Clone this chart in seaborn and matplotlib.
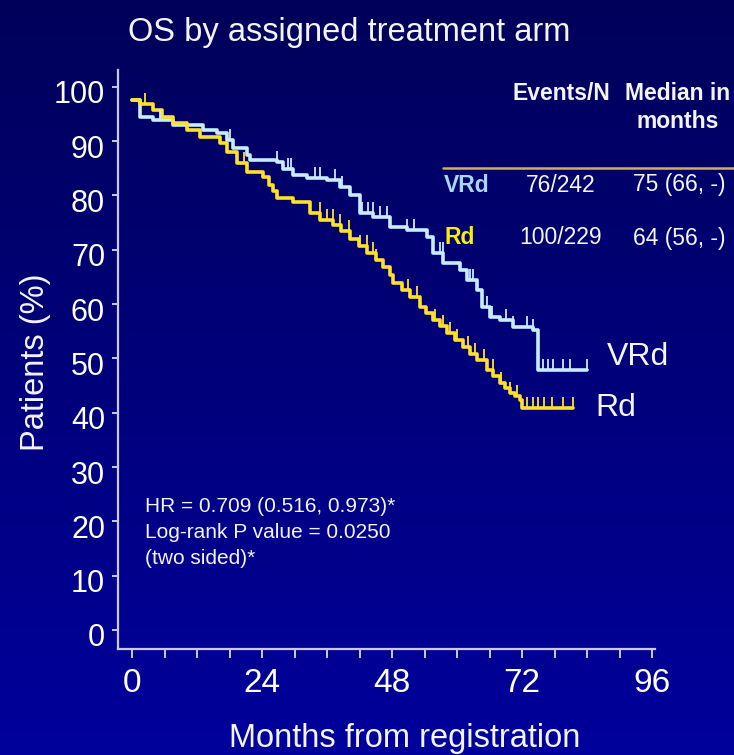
import numpy as np
import pandas as pd
import matplotlib
matplotlib.use("Agg")
import matplotlib.pyplot as plt
import seaborn as sns
from matplotlib.transforms import ScaledTranslation

# ---- Kaplan-Meier step points: month of each step and % alive after it ----
vrd_months = [0, 1.5, 3.9, 7.6, 13.1, 15.7, 17.5, 18.6, 21.2, 21.8, 26.8, 27.9,
              29.7, 32.3, 36.0, 38.4, 40.2, 42.1, 44.5, 47.6, 50.7, 54.4, 55.5,
              57.4, 60.5, 61.8, 63.7, 64.6, 66.1, 67.9, 70.3, 74.0, 74.9]
vrd_pct = [97.6, 94.5, 93.9, 93.0, 92.1, 91.5, 90.2, 88.8, 87.5, 86.6, 86.2, 84.8,
           83.8, 83.2, 82.9, 81.6, 80.1, 76.8, 76.1, 74.2, 73.7, 72.4, 69.4,
           67.6, 66.3, 64.5, 62.6, 59.5, 57.6, 57.1, 55.8, 55.2, 47.9]
vrd_last_month = 84.0
vrd_censored = [5.2, 18.1, 26.8, 28.7, 29.4, 33.7, 34.6, 37.4, 38.7, 42.5, 43.5,
                44.4, 45.7, 47.0, 50.7, 52.0, 56.8, 57.3, 62.3, 63.0, 65.5, 66.4,
                69.0, 70.3, 72.9, 74.0, 75.8, 76.8, 77.7, 79.5, 80.8, 84.0]

rd_months = [0, 1.5, 3.9, 5.5, 7.6, 10.1, 12.5, 16.2, 17.5, 19.4, 21.2, 24.2,
             25.3, 26.0, 26.8, 29.7, 32.8, 34.7, 37.1, 38.5, 40.2, 41.8, 43.4,
             45.0, 46.3, 47.6, 48.2, 49.8, 51.3, 53.1, 54.3, 55.5, 56.8, 58.1,
             59.6, 61.1, 62.4, 63.7, 65.5, 66.7, 67.9, 68.8, 69.7, 70.6, 71.6, 72.0]
rd_pct = [97.6, 96.8, 95.8, 94.5, 93.4, 92.1, 90.8, 89.7, 88.0, 86.0, 84.3, 83.4,
          82.0, 80.8, 79.6, 78.8, 76.8, 75.5, 74.5, 73.4, 72.0, 70.7, 69.4,
          68.2, 66.9, 65.3, 63.9, 62.6, 61.3, 59.5, 58.3, 57.1, 55.9, 54.7,
          53.4, 52.1, 50.9, 49.7, 47.9, 46.7, 45.5, 44.5, 43.6, 43.0, 42.4, 40.9]
rd_last_month = 81.4
rd_censored = [2.4, 20.7, 34.6, 35.9, 37.0, 38.3, 40.1, 42.0, 43.3, 44.4, 45.0,
               51.0, 52.5, 56.0, 57.3, 58.6, 60.0, 62.0, 63.3, 65.0, 66.6, 68.0,
               69.7, 71.0, 72.9, 74.0, 75.0, 76.0, 77.5, 79.5, 81.4]

arms = ["VRd", "Rd"]
arm_colors = {"VRd": "#c8ecff", "Rd": "#ffe12c"}
table_name_colors = {"VRd": "#a9d6f5", "Rd": "#f5f000"}

x_ticks = list(range(0, 97, 6))
x_labeled = [0, 24, 48, 72, 96]
y_ticks = list(range(0, 101, 10))

title = "OS by assigned treatment arm"
x_title = "Months from registration"
y_title = "Patients (%)"
table_header = [("Events/N", 561), ("Median in", 678)]
table_header2 = ("months", 678)
table_rows = [("VRd", "76/242", "75 (66, -)"), ("Rd", "100/229", "64 (56, -)")]
stats_lines = ["HR = 0.709 (0.516, 0.973)*", "Log-rank P value = 0.0250", "(two sided)*"]

# ---- tidy frames ----
def curve_frame(arm, months, pct, last):
    return pd.DataFrame({"arm": arm, "month": months + [last], "pct": pct + [pct[-1]]})

def censor_frame(arm, months, pct, cens):
    m = np.asarray(months)
    p = np.asarray(pct)
    idx = np.searchsorted(m, np.asarray(cens), side="right") - 1
    return pd.DataFrame({"arm": arm, "month": cens, "pct": p[idx]})

curves = {
    "VRd": curve_frame("VRd", vrd_months, vrd_pct, vrd_last_month),
    "Rd": curve_frame("Rd", rd_months, rd_pct, rd_last_month),
}
ticks = {
    "VRd": censor_frame("VRd", vrd_months, vrd_pct, vrd_censored),
    "Rd": censor_frame("Rd", rd_months, rd_pct, rd_censored),
}

# ---- figure ----
sns.set_style("white")
plt.rcParams["font.family"] = ["Liberation Sans", "DejaVu Sans"]

W, H = 734, 755
fig = plt.figure(figsize=(W / 100, H / 100), dpi=100)

def fx(px):
    return px / W

def fy(py):
    return 1 - py / H

# vertical navy gradient behind everything
bg = fig.add_axes([0, 0, 1, 1], zorder=-10)
top = np.array([0x00, 0x00, 0x5a]) / 255
bot = np.array([0x00, 0x00, 0x9c]) / 255
t = np.linspace(0, 1, 256)[:, None]
grad = (top[None, :] * (1 - t) + bot[None, :] * t)[:, None, :]
bg.imshow(grad, aspect="auto", extent=[0, 1, 0, 1])
bg.set_axis_off()

ax = fig.add_axes([fx(118), fy(649), fx(655) - fx(118), fy(70) - fy(649)])
ax.set_facecolor("none")

for arm in arms:
    sns.lineplot(data=curves[arm], x="month", y="pct", color=arm_colors[arm],
                 drawstyle="steps-post", estimator=None, sort=False,
                 linewidth=2.6, ax=ax, legend=False)
    sns.scatterplot(data=ticks[arm], x="month", y="pct", color=arm_colors[arm],
                    marker=2, s=60, linewidth=1.3, ax=ax, legend=False, zorder=3)

ax.set_xlim(-2.58, 96.5)
ax.set_ylim(-3.5, 103.1)
ax.set_xlabel("")
ax.set_ylabel("")

axis_color = "#c9c9e6"
for side in ["top", "right"]:
    ax.spines[side].set_visible(False)
for side in ["left", "bottom"]:
    ax.spines[side].set_color(axis_color)
    ax.spines[side].set_linewidth(1.6)

ax.set_xticks(x_ticks)
ax.set_xticklabels([str(v) if v in x_labeled else "" for v in x_ticks])
ax.set_yticks(y_ticks)
ax.set_yticklabels([str(v) for v in y_ticks])
ax.tick_params(axis="x", direction="out", bottom=True, length=6.5, width=1.4,
               color=axis_color, labelsize=24, labelcolor="white", pad=7)
ax.tick_params(axis="y", direction="out", left=True, length=4.3, width=1.4,
               color=axis_color, labelsize=22, labelcolor="white", pad=5)
shift = ScaledTranslation(0, -5 / 100, fig.dpi_scale_trans)
for lab in ax.get_yticklabels():
    lab.set_transform(lab.get_transform() + shift)

text_color = "#f4f4ff"
fig.text(fx(128), fy(32), title, fontsize=23.5, color=text_color, va="center", ha="left")
fig.text(fx(405), fy(738), x_title, fontsize=23.5, color=text_color, va="center", ha="center")
fig.text(fx(36), fy(362), y_title, fontsize=23.5, color=text_color, va="center",
         ha="center", rotation=90)

# arm labels next to the curves
fig.text(fx(607), fy(357), "VRd", fontsize=23, color=text_color, va="center", ha="left")
fig.text(fx(595), fy(408), "Rd", fontsize=23, color=text_color, va="center", ha="left")

# summary table
for label, cx in table_header:
    fig.text(fx(cx), fy(93), label, fontsize=16.5, fontweight="bold",
             color=text_color, va="center", ha="center")
fig.text(fx(table_header2[1]), fy(121), table_header2[0], fontsize=16.5,
         fontweight="bold", color=text_color, va="center", ha="center")
fig.add_artist(plt.Line2D([fx(443), 1.0], [fy(168), fy(168)], color="#c9b257",
                          linewidth=1.8, transform=fig.transFigure))
for (name, events, median), cy in zip(table_rows, [185, 238]):
    fig.text(fx(444), fy(cy), name, fontsize=16.5, fontweight="bold",
             color=table_name_colors[name], va="center", ha="left")
    fig.text(fx(561), fy(cy), events, fontsize=16.5, color=text_color,
             va="center", ha="center")
    fig.text(fx(679), fy(cy), median, fontsize=16.5, color=text_color,
             va="center", ha="center")

for line, cy in zip(stats_lines, [506, 533, 559]):
    fig.text(fx(145), fy(cy), line, fontsize=15, color=text_color,
             va="center", ha="left")

fig.savefig("out.png", dpi=100)
